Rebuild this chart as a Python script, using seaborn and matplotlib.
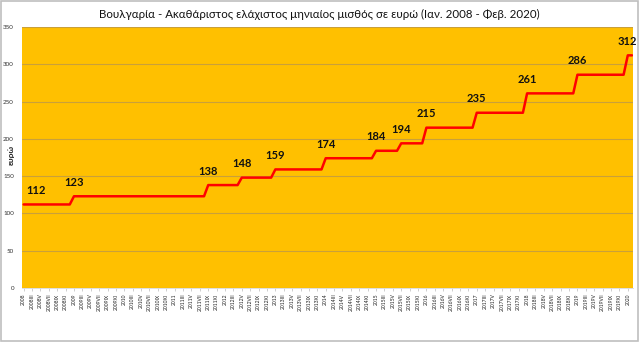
import numpy as np
import pandas as pd
import matplotlib
matplotlib.use("Agg")
import matplotlib.pyplot as plt
import seaborn as sns

# Minimum monthly wage levels (EUR) and how many months each level applied
levels = [112, 123, 138, 148, 159, 174, 184, 194, 215, 235, 261, 286, 312]
months_at_level = [12, 32, 8, 8, 12, 12, 6, 6, 12, 12, 12, 12, 2]
# month index where each value label is drawn
label_pos = [3, 12, 44, 52, 60, 72, 84, 90, 96, 108, 120, 132, 144]

years = list(range(2008, 2021))
roman = ["", "II", "III", "IV", "V", "VI", "VII", "VIII", "IX", "X", "XI", "XII"]

wage = np.repeat(levels, months_at_level)
month_labels = [f"{y}{roman[m]}" for y in years for m in range(12)][:len(wage)]
df = pd.DataFrame({"month": np.arange(len(wage)), "wage": wage, "label": month_labels})

sns.set_theme(style="white")
plt.rcParams["font.family"] = ["Lato", "DejaVu Sans"]

fig = plt.figure(figsize=(6.39, 3.42), dpi=100)
ax = fig.add_axes([0.035, 0.158, 0.956, 0.763])
ax.set_facecolor("#FFC000")

ax.yaxis.grid(True, color="#C9A03A", linewidth=0.8)
ax.set_axisbelow(True)

sns.lineplot(data=df, x="month", y="wage", ax=ax, color="#FF0000", linewidth=1.8)

for pos, val in zip(label_pos, levels):
    ax.annotate(f"{val}", (pos, val), xytext=(0, 6), textcoords="offset points",
                ha="center", va="bottom", fontsize=8, fontweight="bold", color="#111111")

ax.set_xlim(-0.3, len(wage) - 0.7)
ax.set_ylim(0, 350)
ax.set_yticks(range(0, 351, 50))
ax.tick_params(axis="y", labelsize=4.5, length=0, pad=6, colors="#333333")

tick_idx = df["month"][::2]
ax.set_xticks(tick_idx)
ax.set_xticklabels(df["label"][::2], rotation=90, fontsize=3.6, color="#222222")
ax.tick_params(axis="x", length=2, width=0.5, color="#BBBBBB", pad=2, bottom=True)

for side in ["top", "right", "left"]:
    ax.spines[side].set_visible(False)
ax.spines["bottom"].set_color("#D9D9D9")
ax.spines["bottom"].set_linewidth(0.6)

ax.set_xlabel("")
ax.set_ylabel("")
fig.text(0.017, 1 - 155 / 342, "ευρώ", rotation=90, ha="center", va="center",
         fontsize=6, fontweight="bold", color="#222222")

fig.text(0.5, 0.958, "Βουλγαρία - Ακαθάριστος ελάχιστος μηνιαίος μισθός σε ευρώ (Ιαν. 2008 - Φεβ. 2020)",
         ha="center", va="center", fontsize=8.3, color="#111111")

fig.patches.append(plt.Rectangle((0.001, 0.003), 0.997, 0.994, transform=fig.transFigure,
                                 fill=False, edgecolor="#BFBFBF", linewidth=1.2))

fig.savefig("out.png", dpi=100)
